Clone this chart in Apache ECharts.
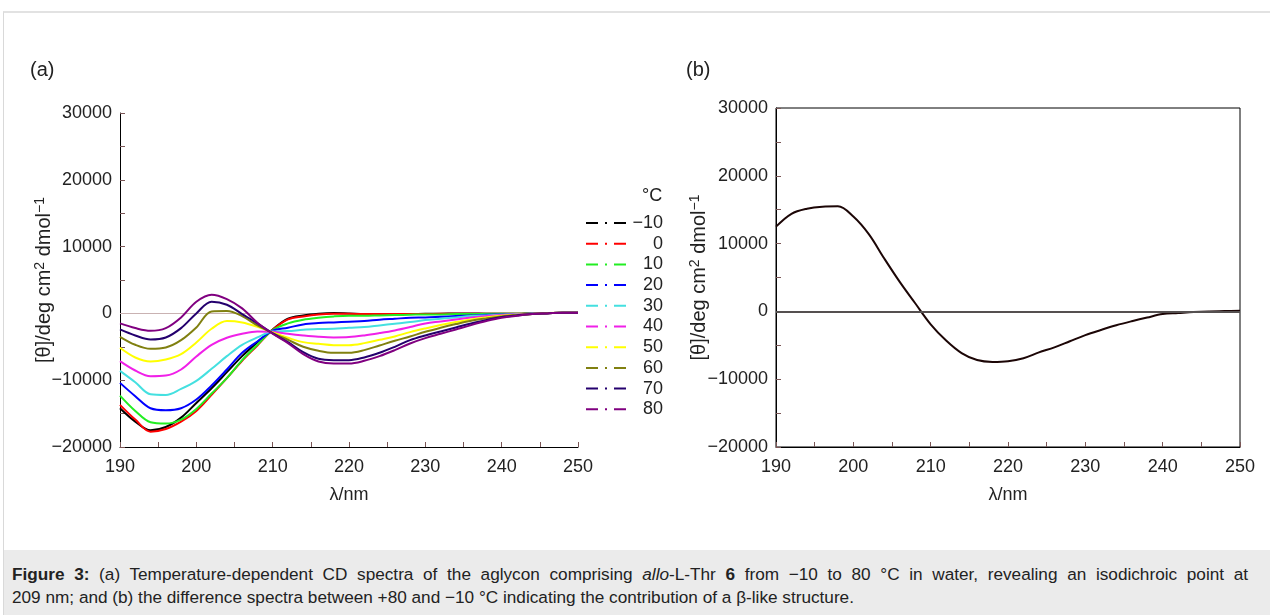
<!DOCTYPE html>
<html>
<head>
<meta charset="utf-8">
<script src="https://cdn.jsdelivr.net/npm/echarts@6/dist/echarts.min.js"></script>
<style>
  html, body { margin:0; padding:0; background:#fff; }
  body { width:1270px; height:615px; overflow:hidden; position:relative; font-family:"Liberation Sans", Arial, sans-serif; }
  #frame { position:absolute; left:3px; top:11px; width:1267px; height:604px; border-left:1px solid #d9d9d9; border-top:2px solid #e2e2e2; box-sizing:border-box; }
  #chart { position:absolute; left:0; top:0; width:1270px; height:550px; }
  #cap { position:absolute; left:4px; top:550px; width:1266px; height:65px; background:#ebebeb; box-sizing:border-box; padding:13px 22px 0 8px; font-size:17.2px; line-height:23px; color:#222; }
  #cap .l1 { text-align:justify; text-align-last:justify; white-space:nowrap; }
  #cap .l2 { white-space:nowrap; }
</style>
</head>
<body>
<div id="frame"></div>
<div id="chart"></div>
<div id="cap"><div class="l1"><b>Figure 3:</b> (a) Temperature-dependent CD spectra of the aglycon comprising <i>allo</i>-L-Thr <b>6</b> from −10 to 80 °C in water, revealing an isodichroic point at</div><div class="l2">209 nm; and (b) the difference spectra between +80 and −10 °C indicating the contribution of a β-like structure.</div></div>
<script>
// ---- data ----
const wavelengths = [190,192,194,196,198,200,202,204,206,208,210,212,214,216,218,220,222,224,226,228,230,232,234,236,238,240,242,244,246,248,250];
const tempNames = ['\u221210','0','10','20','30','40','50','60','70','80'];
const tm10 = [-14200,-16200,-17500,-17000,-15600,-13400,-11200,-8800,-6400,-4300,-2400,-800,-300,-50,50,0,-100,-100,-100,-100,-50,-50,0,0,-50,-50,-50,0,50,100,100];
const t0   = [-13700,-15900,-17700,-17300,-16200,-14600,-12200,-9700,-7100,-4800,-2450,-900,-450,-150,-50,-50,-100,-100,-100,-100,-100,-50,-50,-50,-50,-50,-50,0,50,100,100];
const t10  = [-12300,-14600,-16300,-16500,-15900,-14300,-12000,-9700,-7000,-4700,-2500,-1500,-950,-650,-450,-350,-350,-300,-250,-200,-150,-150,-100,-100,-50,-50,-50,0,50,100,100];
const t20  = [-10400,-12400,-14200,-14500,-14200,-12900,-10800,-8400,-5900,-4200,-2600,-2150,-1650,-1450,-1350,-1250,-1150,-950,-800,-650,-600,-500,-400,-300,-200,-150,-100,-50,50,100,100];
const t30  = [-8600,-10300,-12100,-12200,-11300,-10100,-8300,-6400,-4700,-3600,-2700,-2650,-2450,-2350,-2300,-2150,-2050,-1800,-1550,-1300,-1000,-800,-600,-400,-300,-200,-100,-50,50,100,100];
const t40  = [-7150,-8550,-9400,-9300,-8400,-6450,-4700,-3650,-3050,-2700,-2750,-3050,-3300,-3500,-3600,-3550,-3300,-2950,-2550,-2050,-1500,-1200,-900,-600,-400,-250,-150,-50,50,100,100];
const t50  = [-5150,-6600,-7200,-6900,-6100,-4350,-2300,-1150,-1350,-2000,-2850,-3650,-4300,-4550,-4750,-4750,-4450,-3950,-3450,-2800,-2250,-1750,-1300,-900,-600,-350,-200,-100,50,100,100];
const t60  = [-3500,-4700,-5300,-5100,-4000,-2100,300,350,-400,-1800,-2950,-3950,-5000,-5600,-5900,-5900,-5500,-4800,-4100,-3450,-2750,-2150,-1600,-1100,-750,-450,-250,-100,0,100,100];
const t70  = [-2400,-3300,-3900,-3600,-2200,0,1750,1300,-100,-1500,-3000,-4300,-5800,-6800,-7000,-7000,-6600,-5900,-5000,-4000,-3300,-2700,-2100,-1500,-1000,-550,-300,-100,0,100,100];
const t80  = [-1500,-2200,-2600,-2200,-600,1750,2800,2150,750,-1400,-3050,-4450,-6100,-7200,-7500,-7500,-7100,-6400,-5500,-4500,-3700,-3050,-2400,-1750,-1150,-650,-350,-100,0,100,100];
const diff80m10 = [12500,14400,15150,15450,15500,14000,11400,7800,4350,1200,-1900,-4300,-6150,-7180,-7450,-7350,-6900,-6050,-5300,-4400,-3500,-2750,-2050,-1450,-900,-400,-250,-100,0,50,100];
const yTicks = [-20000,-10000,0,10000,20000,30000];
const xTicks = [190,200,210,220,230,240,250];

// ---- styles ----
const tempSeries = [tm10,t0,t10,t20,t30,t40,t50,t60,t70,t80];
const colors = ['#000000','#ff0000','#22ee22','#0000ff','#44e0e0','#f020e8','#ffff00','#808010','#24006e','#800080'];
const FONT = '"Liberation Sans", Arial, sans-serif';
const fmtY = v => (yTicks.indexOf(v) >= 0 ? (v < 0 ? '\u2212' + Math.abs(v) : String(v)) : '');
const fmtX = v => (xTicks.indexOf(v) >= 0 ? String(v) : '');
const tickStyle = {inside:true, length:5, lineStyle:{color:'#7a5656', width:1}};

function xAxisDef(gi){
  return {gridIndex:gi, type:'value', min:190, max:250, interval:5,
    axisLine:{onZero:false, lineStyle:{color:'#000', width:1}},
    axisTick: tickStyle, splitLine:{show:false},
    axisLabel:{formatter:fmtX, color:'#222', fontSize:18, fontFamily:FONT, margin:11},
    name:'\u03bb/nm', nameLocation:'middle', nameGap:39, nameMoveOverlap:false,
    nameTextStyle:{color:'#222', fontSize:18, fontFamily:FONT}};
}
function yAxisDef(gi, gap){
  return {gridIndex:gi, type:'value', min:-20000, max:30000, interval:5000,
    axisLine:{show:true, onZero:false, lineStyle:{color:'#000', width:1}},
    axisTick: tickStyle, splitLine:{show:false},
    axisLabel:{formatter:fmtY, color:'#222', fontSize:18, fontFamily:FONT, margin:8},
    name:'[\u03b8]/deg cm{sup|2} dmol{sup|\u22121}', nameLocation:'middle', nameGap:gap, nameMoveOverlap:false,
    nameTextStyle:{color:'#222', fontSize:20, fontFamily:FONT, lineHeight:22,
      rich:{sup:{fontSize:14, fontFamily:FONT, color:'#222', verticalAlign:'top', lineHeight:14}}}};
}

const series = tempSeries.map((vals,i) => ({
  name: tempNames[i], type:'line', xAxisIndex:0, yAxisIndex:0,
  data: wavelengths.map((w,j) => [w, vals[j]]),
  smooth:0.35, symbol:'none', lineStyle:{color:colors[i], width:2}, itemStyle:{color:colors[i]},
  z: 3,
  markLine: i === 0 ? {silent:true, symbol:['none','none'], label:{show:false}, z:1,
    lineStyle:{color:'#c9b2b2', width:1, type:'solid'}, data:[{yAxis:0}]} : undefined
}));
series.push({
  name:'diff', type:'line', xAxisIndex:1, yAxisIndex:1,
  data: wavelengths.map((w,j) => [w, diff80m10[j]]),
  smooth:0.35, symbol:'none', lineStyle:{color:'#1c0606', width:2}, z:3,
  markLine:{silent:true, symbol:['none','none'], label:{show:false},
    lineStyle:{color:'#555050', width:2, type:'solid'}, data:[{yAxis:0}]}
});

const chart = echarts.init(document.getElementById('chart'), null, {renderer:'canvas'});
chart.setOption({
  animation:false,
  backgroundColor:'transparent',
  grid:[
    {left:120, top:113, width:458, height:334},
    {left:776, top:108, width:464, height:339, show:true, borderColor:'#000', borderWidth:1, backgroundColor:'transparent'}
  ],
  xAxis:[xAxisDef(0), xAxisDef(1)],
  yAxis:[yAxisDef(0,65), yAxisDef(1,66)],
  legend:{
    data: tempNames, orient:'vertical', left:580, top:209,
    itemWidth:40, itemHeight:14, itemGap:2.7, selectedMode:false,
    lineStyle:{type:[12,7,2,7], width:2},
    itemStyle:{opacity:0},
    formatter: n => '{a|' + n + '}',
    textStyle:{color:'#222', fontSize:18, lineHeight:18, fontFamily:FONT,
      rich:{a:{width:32, align:'right', fontSize:18, lineHeight:18, fontFamily:FONT, color:'#222'}}}
  },
  graphic:[
    {type:'text', left:642, top:187, style:{text:'\u00b0C', fontSize:18, fontFamily:FONT, fill:'#222'}},
    {type:'text', left:30, top:60, style:{text:'(a)', fontSize:20, fontFamily:FONT, fill:'#222'}},
    {type:'text', left:686, top:60, style:{text:'(b)', fontSize:20, fontFamily:FONT, fill:'#222'}}
  ],
  series: series
});
</script>
</body>
</html>
